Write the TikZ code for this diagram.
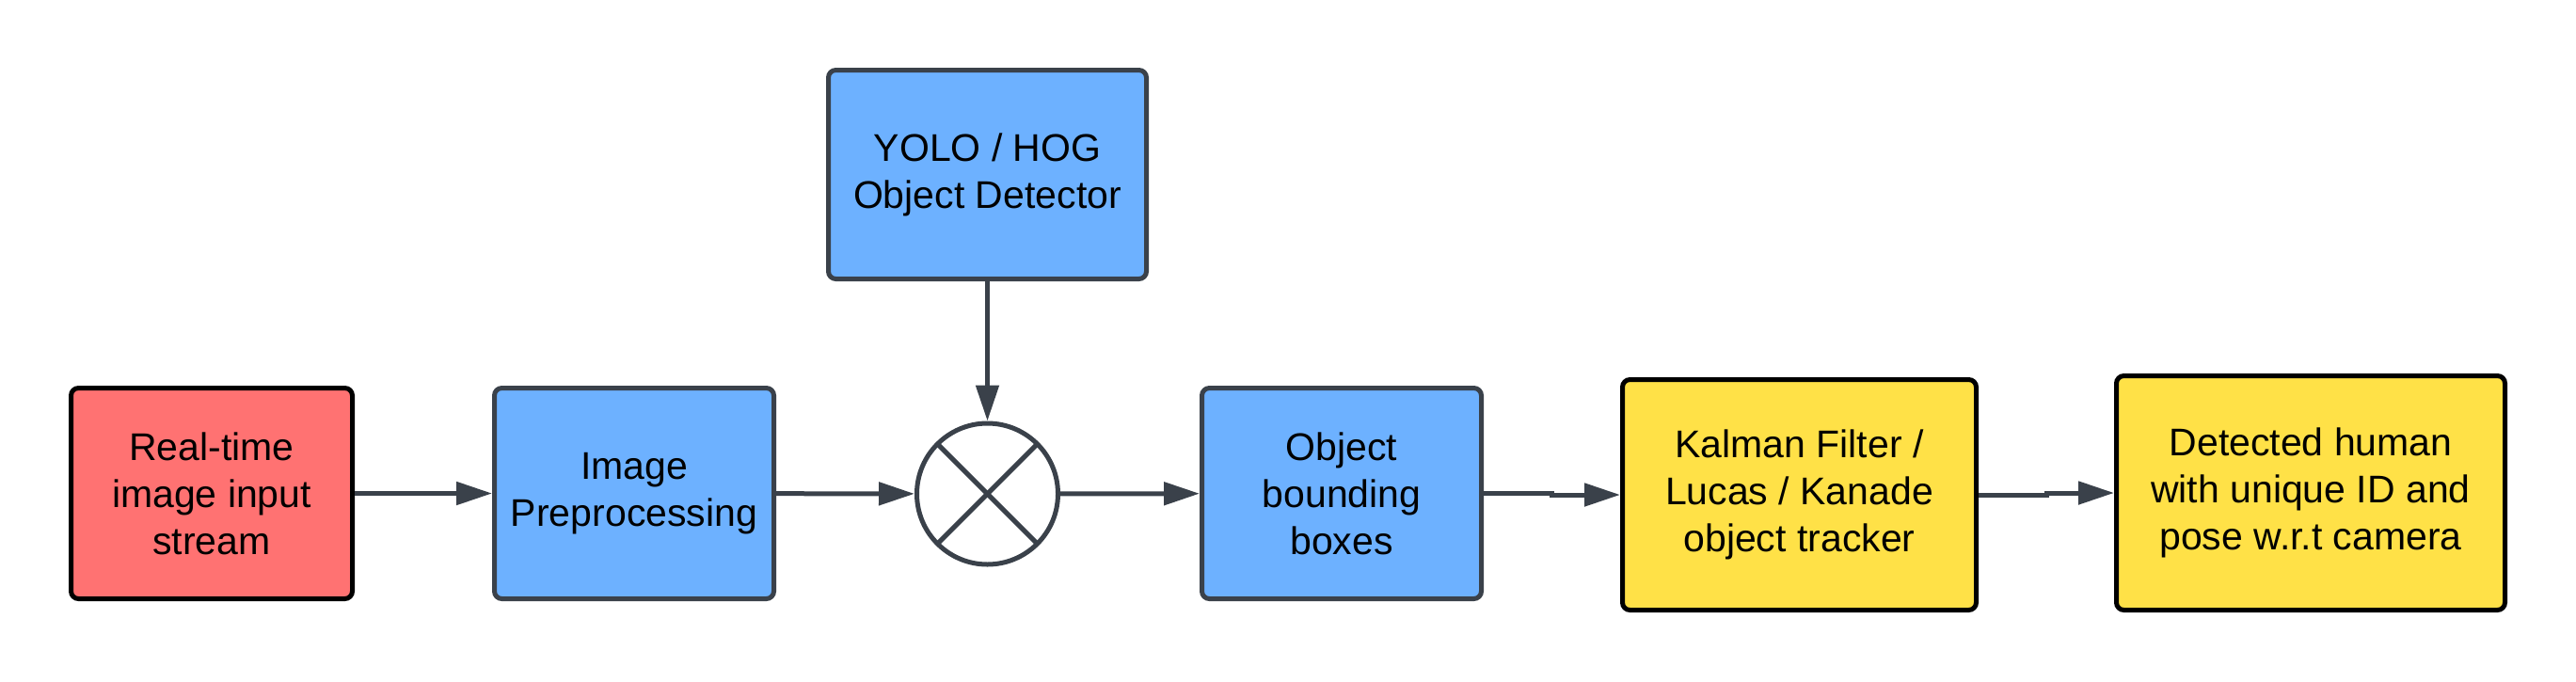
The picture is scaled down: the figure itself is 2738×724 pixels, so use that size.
\documentclass[tikz,border=0pt]{standalone}
\usepackage{fontspec}
\setmainfont{Liberation Sans}
\usetikzlibrary{arrows.meta,calc}
\definecolor{redfill}{HTML}{FF7272}
\definecolor{bluefill}{HTML}{6DB1FF}
\definecolor{yellowfill}{HTML}{FFE147}
\definecolor{edgegray}{HTML}{3A414A}
\begin{document}
\begin{tikzpicture}[x=1pt,y=-1pt,
  box/.style={rectangle, rounded corners=8pt, line width=5pt, align=center,
    inner sep=0pt, font=\fontsize{41}{50}\selectfont, text=black},
  redbox/.style={box, draw=black, fill=redfill},
  bluebox/.style={box, draw=edgegray, fill=bluefill},
  yellowbox/.style={box, draw=black, fill=yellowfill},
  mixer/.style={circle, draw=edgegray, fill=white, line width=5pt, minimum size=150pt, inner sep=0pt},
  conn/.style={draw=edgegray, line width=5pt, -{Triangle[length=38pt,width=24pt]}},
  crossline/.style={draw=edgegray, line width=5pt}
]
\useasboundingbox (0,0) rectangle (2738,724);

\node[redbox, minimum width=299pt, minimum height=224pt] (red) at (225,524.5)
  {Real-time\\image input\\stream};
\node[bluebox, minimum width=297pt, minimum height=224pt] (ip) at (674,524.5)
  {Image\\Preprocessing};
\node[bluebox, minimum width=338pt, minimum height=222pt] (yolo) at (1049.5,185.5)
  {YOLO / HOG\\Object Detector};
\node[mixer] (mix) at (1049.5,525) {};
\draw[crossline] ($(mix.center)+(45:75)$) -- ($(mix.center)+(225:75)$);
\draw[crossline] ($(mix.center)+(135:75)$) -- ($(mix.center)+(315:75)$);
\node[bluebox, minimum width=297pt, minimum height=224pt] (obb) at (1426,524.5)
  {Object\\bounding\\boxes};
\node[yellowbox, minimum width=376pt, minimum height=245pt] (kal) at (1912.5,526)
  {Kalman Filter /\\Lucas / Kanade\\object tracker};
\node[yellowbox, minimum width=413pt, minimum height=249pt] (det) at (2456,524)
  {Detected human\\with unique ID and\\pose w.r.t camera};

\draw[conn] (red) -- (ip);
\draw[conn] (ip) -- (mix);
\draw[conn] (yolo) -- (mix);
\draw[conn] (mix) -- (obb);
\coordinate (j1) at ($(obb.east)!0.5!(kal.west)$);
\draw[conn] (obb.east) -| (j1) |- (kal.west);
\coordinate (j2) at ($(kal.east)!0.5!(det.west)$);
\draw[conn] (kal.east) -| (j2) |- (det.west);
\end{tikzpicture}
\end{document}
